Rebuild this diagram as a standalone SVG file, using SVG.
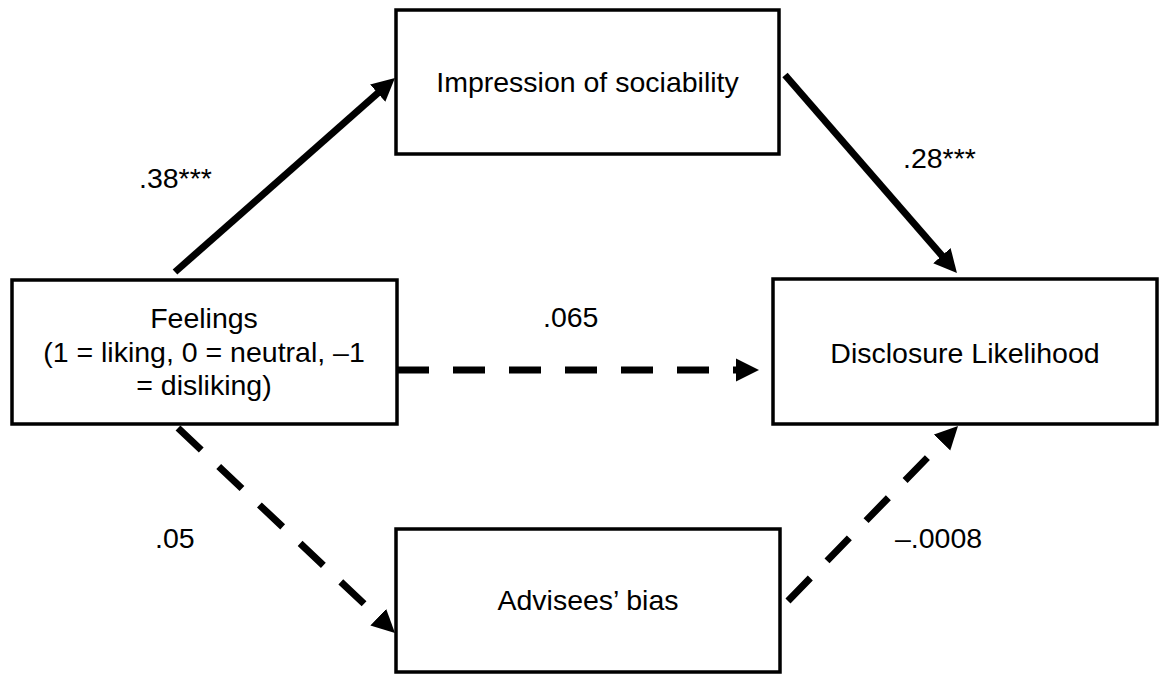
<svg xmlns="http://www.w3.org/2000/svg" width="1162" height="675" viewBox="0 0 1162 675">
<style>
.box{fill:#fff;stroke:#000;stroke-width:3.5}
.t{font-family:"Liberation Sans",Arial,sans-serif;font-size:28.5px;fill:#000}
.c{text-anchor:middle}
.solid{fill:none;stroke:#000;stroke-width:7;marker-end:url(#ah)}
.dash{fill:none;stroke:#000;stroke-width:7;stroke-dasharray:32 24;marker-end:url(#ah)}
</style>
<defs>
<marker id="ah" markerUnits="userSpaceOnUse" markerWidth="24" markerHeight="24" viewBox="0 0 24 24" refX="2" refY="12" orient="auto">
<path d="M0,0.5 L23,12 L0,23.5 z" fill="#000"/>
</marker>
</defs>
<rect width="1162" height="675" fill="#fff"/>
<g id="connectors">
<path class="solid" d="M175,272 L379.2,91.9"/>
<path class="solid" d="M785,75 L943.2,257.1"/>
<path class="dash" d="M397,370 L738,370"/>
<path class="dash" d="M178,428 L379.7,618.6"/>
<path class="dash" d="M788,601 L943.4,441.1"/>
</g>
<g id="impression">
<rect class="box" x="396" y="10" width="383" height="144"/>
<text class="t c" x="587.5" y="92">Impression of sociability</text>
</g>
<g id="feelings">
<rect class="box" x="12" y="280" width="385" height="144"/>
<text class="t c" x="204" y="328">Feelings</text>
<text class="t c" x="204" y="362">(1 = liking, 0 = neutral, –1</text>
<text class="t c" x="204" y="395">= disliking)</text>
</g>
<g id="disclosure">
<rect class="box" x="773" y="279" width="384" height="145"/>
<text class="t c" x="965" y="363">Disclosure Likelihood</text>
</g>
<g id="advisees">
<rect class="box" x="396" y="529" width="384" height="143"/>
<text class="t c" x="588" y="610">Advisees’ bias</text>
</g>
<g id="labels">
<text class="t" x="139" y="188">.38***</text>
<text class="t" x="903" y="168">.28***</text>
<text class="t" x="543" y="327">.065</text>
<text class="t" x="155" y="548">.05</text>
<text class="t" x="895" y="548">–.0008</text>
</g>
</svg>
